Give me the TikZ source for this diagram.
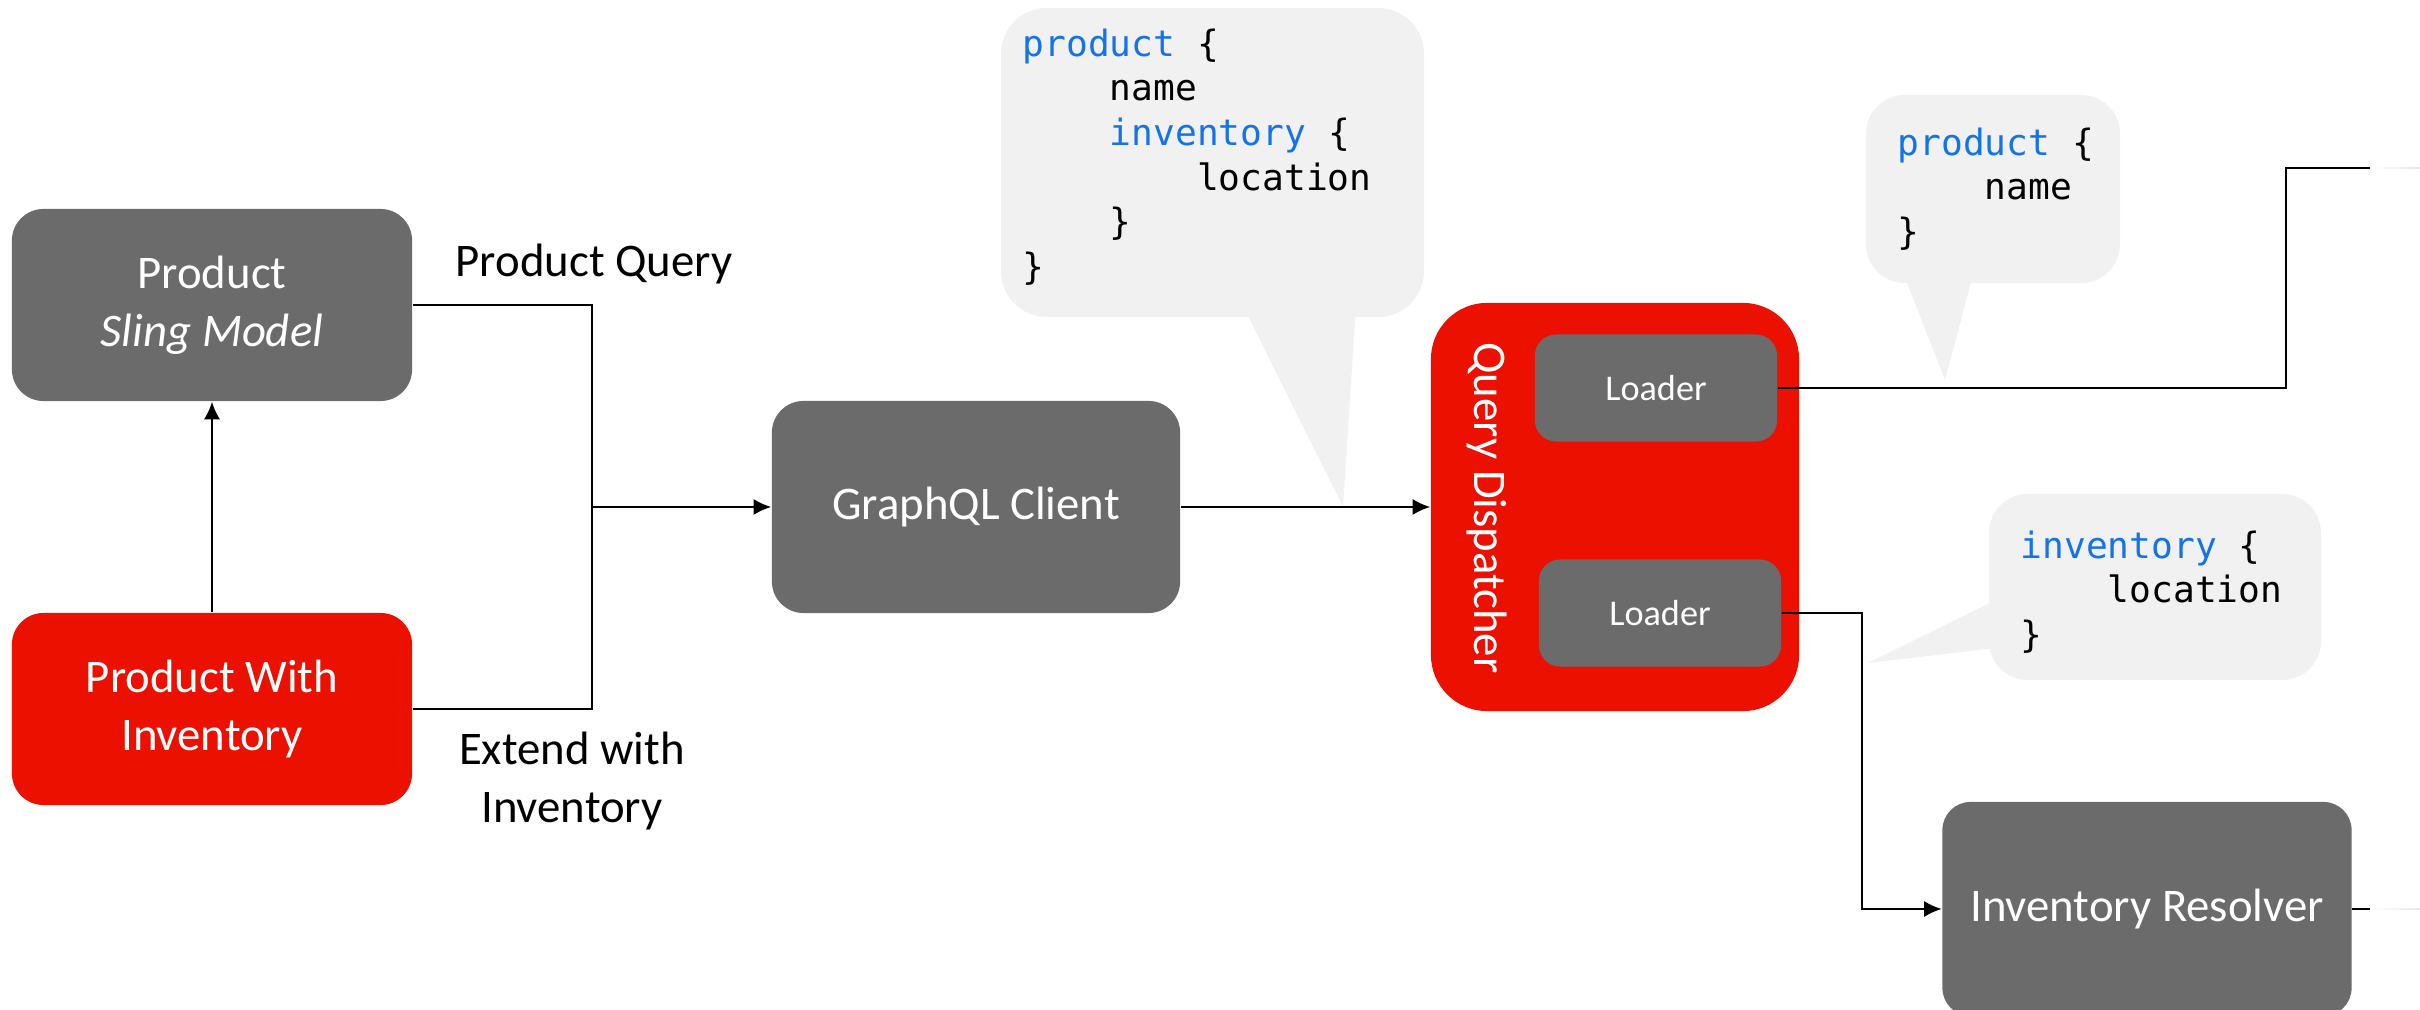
\documentclass[tikz,border=0pt]{standalone}
\usepackage{fontspec}
\setmainfont{Carlito}
\setmonofont{DejaVu Sans Mono}
\usepackage{xcolor}
\usetikzlibrary{arrows.meta,positioning}
\definecolor{boxgray}{HTML}{6B6B6B}
\definecolor{adobered}{HTML}{EB1000}
\definecolor{bubblegray}{HTML}{F1F1F1}
\definecolor{codeblue}{HTML}{1473E6}
\newcommand{\codeindent}{\phantom{xxxx}}
\newcommand{\kw}[1]{\textcolor{codeblue}{#1}}
\tikzstyle{wire} = [draw,line width=0.6pt]
\tikzstyle{line} = [wire,-{Latex[length=5pt,width=4.6pt]}]
\tikzstyle{block} = [rectangle,rounded corners=9pt,fill=boxgray,text=white,align=center,
  inner sep=0pt,font=\fontsize{13.3}{16.5}\selectfont]
\tikzstyle{redblock} = [block,fill=adobered]
\tikzstyle{loader} = [block,rounded corners=6pt,minimum width=2.42cm,minimum height=1.07cm,
  font=\fontsize{10.3}{12}\selectfont]
\tikzstyle{code} = [anchor=north west,inner sep=0pt,align=left,
  font=\ttfamily\fontsize{10.3}{12.7}\selectfont]
\tikzstyle{label} = [align=center,font=\fontsize{13.3}{16.5}\selectfont]

\begin{document}
\begin{tikzpicture}[x=0.01cm,y=-0.01cm]
    \useasboundingbox (0,0) rectangle (2420,1010);
    % speech bubbles
    \fill[bubblegray] (1343,507) -- (1235,290) -- (1357,290) -- cycle;
    \fill[bubblegray,rounded corners=13pt] (1001,8) rectangle (1424,317);
    \fill[bubblegray] (1945,380) -- (1898,260) -- (1977,260) -- cycle;
    \fill[bubblegray,rounded corners=11pt] (1866,95) rectangle (2120,283);
    \fill[bubblegray] (1868,663) -- (2030,583) -- (2030,644) -- cycle;
    \fill[bubblegray,rounded corners=11pt] (1989,494) rectangle (2321,680);
    \node[code] (q1) at (1022,28) {\kw{product} \{\\\codeindent name\\
      \codeindent\kw{inventory} \{\\\codeindent\codeindent location\\\codeindent\}\\\}};
    \node[code] (q2) at (1897,127) {\kw{product} \{\\\codeindent name\\\}};
    \node[code] (q3) at (2020,530) {\kw{inventory} \{\\\codeindent location\\\}};

    \node[block,minimum width=4cm,minimum height=1.92cm] (prod) at (212,305) {Product\\\textit{Sling Model}};
    \node[redblock,minimum width=4cm,minimum height=1.92cm] (pwi) at (212,709) {Product With\\Inventory};
    \node[block,minimum width=4.08cm,minimum height=2.12cm] (client) at (976,507) {GraphQL Client};
    \node[redblock,rounded corners=16pt,minimum width=3.68cm,minimum height=4.08cm] (disp) at (1615,507) {};
    \node[label,rotate=-90,text=white] (disptext) at (1487,508) {Query Dispatcher};
    \node[loader] (l1) at (1656,388) {Loader};
    \node[loader] (l2) at (1660,613) {Loader};
    \node[block,rounded corners=8pt,minimum width=4.09cm,minimum height=2.14cm] (res) at (2147,909) {Inventory Resolver};
    \node[label] (pq) at (594,264) {Product Query};
    \node[label] (ext) at (572,781) {Extend with\\Inventory};

    \coordinate (join) at (592,507);
    \coordinate (c1) at (2286,168);
    \coordinate (f1) at (2370,168);
    \coordinate (c2) at (1862,613);
    \coordinate (f2) at (2370,909);
    \path[line] (pwi.north) -- (prod.south);
    \path[wire] (prod.east) -| (join) |- (pwi.east);
    \path[line] (join) -- (client.west);
    \path[line] (client.east) -- (disp.west);
    \path[wire] (l1.east) -| (c1) -- (f1);
    \path[line] (l2.east) -- (c2) |- (res.west);
    \path[wire] (res.east) -- (f2);
    % lines fade out at the right edge
    \foreach \f in {f1,f2}
      \foreach \s [evaluate=\s as \c using int(95-10*\s)] in {0,...,9}
        \path[wire,draw=black!\c] (\f) ++(5*\s,0) -- ++(5.5,0);
\end{tikzpicture}
\end{document}
